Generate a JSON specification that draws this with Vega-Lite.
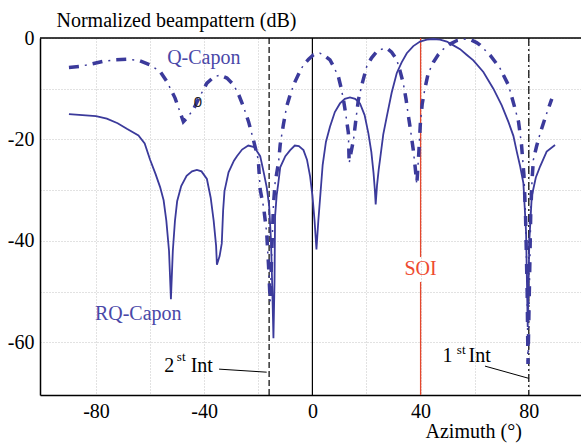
{
  "$schema": "https://vega.github.io/schema/vega-lite/v6.json",
  "width": 541,
  "height": 357,
  "autosize": "none",
  "padding": {"left": 40, "top": 38, "right": 0, "bottom": 50},
  "background": "white",
  "config": {
    "view": {"stroke": null},
    "font": "'Liberation Serif', 'Times New Roman', Times, serif",
    "axis": {
      "labelFont": "'Liberation Serif', 'Times New Roman', Times, serif", "labelFontSize": 20, "labelColor": "black",
      "titleFont": "'Liberation Serif', 'Times New Roman', Times, serif", "titleFontSize": 20, "titleFontWeight": "normal", "titleColor": "black",
      "gridColor": "#c4c4c4", "gridDash": [1, 2], "gridWidth": 1,
      "domainColor": "black", "domainWidth": 1.5, "ticks": false
    }
  },
  "datasets": {
    "rq": [
      {"x": -90, "y": -15}, {"x": -85, "y": -15.2}, {"x": -80, "y": -15.4}, {"x": -76, "y": -15.9},
      {"x": -72, "y": -16.8}, {"x": -68.6, "y": -17.9}, {"x": -64.3, "y": -19.2}, {"x": -62, "y": -20.8},
      {"x": -60, "y": -24.0}, {"x": -58, "y": -26.8}, {"x": -56.3, "y": -29.4}, {"x": -55, "y": -32},
      {"x": -54, "y": -36}, {"x": -53, "y": -42}, {"x": -52.3, "y": -51.5}, {"x": -51.6, "y": -42},
      {"x": -50.8, "y": -36}, {"x": -50, "y": -32.2}, {"x": -48.5, "y": -29.2}, {"x": -46.5, "y": -27.2},
      {"x": -44.5, "y": -26.3}, {"x": -42.7, "y": -26.0}, {"x": -41, "y": -26.3}, {"x": -39, "y": -27.8},
      {"x": -37.6, "y": -31.5}, {"x": -36.5, "y": -36}, {"x": -35.6, "y": -41}, {"x": -35.3, "y": -44.7},
      {"x": -34.3, "y": -43}, {"x": -33.5, "y": -40.5}, {"x": -33, "y": -34}, {"x": -32.5, "y": -30.2},
      {"x": -31, "y": -26.5}, {"x": -29, "y": -24.2}, {"x": -27.9, "y": -23.3}, {"x": -26, "y": -22},
      {"x": -23.7, "y": -21.2}, {"x": -21.5, "y": -21.5}, {"x": -19.3, "y": -23.3}, {"x": -18, "y": -26.5},
      {"x": -16.9, "y": -29.4}, {"x": -16, "y": -33}, {"x": -15.3, "y": -40}, {"x": -14.8, "y": -50},
      {"x": -14.4, "y": -59.2}, {"x": -14.0, "y": -48}, {"x": -13.8, "y": -35.2}, {"x": -13.2, "y": -31},
      {"x": -12.6, "y": -28.6}, {"x": -11.9, "y": -25.5}, {"x": -10, "y": -23.3}, {"x": -8.2, "y": -22.1},
      {"x": -6.5, "y": -21.2}, {"x": -5, "y": -21.3}, {"x": -3.3, "y": -22.1}, {"x": -2, "y": -24},
      {"x": -0.85, "y": -27.3}, {"x": 0, "y": -31}, {"x": 0.8, "y": -36}, {"x": 1.5, "y": -41.7},
      {"x": 2.2, "y": -36}, {"x": 2.8, "y": -31.9}, {"x": 3.8, "y": -25}, {"x": 5, "y": -20.5},
      {"x": 6.5, "y": -17.5}, {"x": 8.3, "y": -14.6}, {"x": 10.2, "y": -12.9}, {"x": 12, "y": -12},
      {"x": 13.9, "y": -11.7}, {"x": 15.8, "y": -12}, {"x": 17.6, "y": -12.9}, {"x": 19.3, "y": -15.2},
      {"x": 20.7, "y": -18.8}, {"x": 21.8, "y": -22.5}, {"x": 22.6, "y": -26.6}, {"x": 23.1, "y": -30},
      {"x": 23.4, "y": -32.8}, {"x": 23.9, "y": -29}, {"x": 24.5, "y": -26}, {"x": 25, "y": -24},
      {"x": 26.2, "y": -19}, {"x": 27.5, "y": -15.5}, {"x": 29.3, "y": -10.8}, {"x": 31.2, "y": -6.9},
      {"x": 33, "y": -4.8}, {"x": 34.9, "y": -3.0}, {"x": 37.3, "y": -1.6}, {"x": 39.8, "y": -0.7},
      {"x": 42.3, "y": -0.3}, {"x": 44.7, "y": -0.2}, {"x": 47.2, "y": -0.3}, {"x": 49.7, "y": -0.7},
      {"x": 52, "y": -1.4}, {"x": 54.6, "y": -2.2}, {"x": 57, "y": -3.3}, {"x": 59.5, "y": -4.4},
      {"x": 63.2, "y": -6.7}, {"x": 66.9, "y": -10}, {"x": 70, "y": -13.3}, {"x": 72.5, "y": -16.6},
      {"x": 74.3, "y": -19.3}, {"x": 75.6, "y": -22.5}, {"x": 76.8, "y": -25.3}, {"x": 78, "y": -28.6},
      {"x": 79, "y": -38.4}, {"x": 79.6, "y": -57}, {"x": 80.2, "y": -40}, {"x": 81.1, "y": -31.2},
      {"x": 82.6, "y": -27.5}, {"x": 84.2, "y": -25.3}, {"x": 86.6, "y": -22.4}, {"x": 89.7, "y": -21.1}
    ],
    "q": [
      {"x": -90, "y": -5.8}, {"x": -85.9, "y": -5.6}, {"x": -81.5, "y": -5.1}, {"x": -77.3, "y": -4.6},
      {"x": -72.9, "y": -4.3}, {"x": -68.6, "y": -4.2}, {"x": -64.3, "y": -4.4}, {"x": -60, "y": -5.3},
      {"x": -56.3, "y": -6.6}, {"x": -53.8, "y": -8.6}, {"x": -50.8, "y": -11.8}, {"x": -49.2, "y": -14.2},
      {"x": -47.7, "y": -16.5}, {"x": -46, "y": -15.5}, {"x": -44, "y": -14.1}, {"x": -41.5, "y": -11.4},
      {"x": -39, "y": -8.9}, {"x": -36.5, "y": -7.7}, {"x": -34.1, "y": -7.3}, {"x": -31.6, "y": -7.9},
      {"x": -29.2, "y": -9.2}, {"x": -27.3, "y": -11.1}, {"x": -25.5, "y": -13.5}, {"x": -23.6, "y": -16.5},
      {"x": -21.8, "y": -20.1}, {"x": -20, "y": -24}, {"x": -19.3, "y": -29.9}, {"x": -18, "y": -33.5},
      {"x": -16.9, "y": -38.4}, {"x": -16.2, "y": -45}, {"x": -15.6, "y": -52}, {"x": -15.0, "y": -42},
      {"x": -14.4, "y": -33}, {"x": -13.8, "y": -28.6}, {"x": -12.5, "y": -24.5}, {"x": -11.9, "y": -21},
      {"x": -10.7, "y": -17}, {"x": -9.5, "y": -13.5}, {"x": -8, "y": -10.8}, {"x": -6.4, "y": -8.6},
      {"x": -4.8, "y": -6.8}, {"x": -3.3, "y": -5.3}, {"x": -1.4, "y": -4.2}, {"x": 0.4, "y": -3.3},
      {"x": 2.8, "y": -3.0}, {"x": 4.6, "y": -3.5}, {"x": 6.5, "y": -4.3}, {"x": 8, "y": -5.8},
      {"x": 9.6, "y": -7.6}, {"x": 10.6, "y": -9.8}, {"x": 11.5, "y": -12.2}, {"x": 12.4, "y": -15.3},
      {"x": 13.3, "y": -18.7}, {"x": 13.6, "y": -24.7}, {"x": 14.3, "y": -22.5}, {"x": 15.2, "y": -20.1},
      {"x": 16.1, "y": -16}, {"x": 17, "y": -12.2}, {"x": 18.5, "y": -8.8}, {"x": 20.1, "y": -5.6},
      {"x": 21.9, "y": -3.9}, {"x": 23.8, "y": -2.7}, {"x": 25.6, "y": -2.2}, {"x": 27.5, "y": -2.0},
      {"x": 29.3, "y": -2.8}, {"x": 31.2, "y": -4.3}, {"x": 32.4, "y": -6.5}, {"x": 33.6, "y": -8.9},
      {"x": 34.6, "y": -12}, {"x": 35.5, "y": -15.4}, {"x": 36.4, "y": -18.6}, {"x": 37.3, "y": -22.1},
      {"x": 38.0, "y": -25.5}, {"x": 38.6, "y": -28.9}, {"x": 39.3, "y": -23}, {"x": 39.9, "y": -17},
      {"x": 40.6, "y": -13}, {"x": 41.6, "y": -10}, {"x": 42.8, "y": -7}, {"x": 44.7, "y": -4.8},
      {"x": 46.5, "y": -3.3}, {"x": 48.4, "y": -2.2}, {"x": 50.9, "y": -1.2}, {"x": 53.4, "y": -0.5},
      {"x": 55.8, "y": -0.2}, {"x": 58.3, "y": -0.3}, {"x": 60.7, "y": -0.9}, {"x": 62, "y": -1.4},
      {"x": 65.7, "y": -3.4}, {"x": 69.4, "y": -6}, {"x": 72.5, "y": -9.3}, {"x": 74.9, "y": -13.9},
      {"x": 76.2, "y": -16.5}, {"x": 77.3, "y": -21}, {"x": 78.2, "y": -27}, {"x": 78.8, "y": -35},
      {"x": 79.4, "y": -50}, {"x": 79.7, "y": -64.3}, {"x": 80.2, "y": -50}, {"x": 80.7, "y": -35},
      {"x": 81.2, "y": -28}, {"x": 81.7, "y": -24}, {"x": 82.9, "y": -21.3}, {"x": 84.2, "y": -18.8},
      {"x": 85.4, "y": -16.8}, {"x": 86.6, "y": -14.9}, {"x": 88.5, "y": -12.0}
    ]
  },
  "layer": [
    {
      "data": {"values": [{"y": 0}]},
      "mark": {"type": "rule", "color": "black", "strokeWidth": 1.5},
      "encoding": {
        "y": {"field": "y", "type": "quantitative",
          "scale": {"domain": [-70.4, 0], "nice": false, "zero": false},
          "axis": {
            "values": [0, -10, -20, -30, -40, -50, -60],
            "labelExpr": "datum.value % 20 === 0 ? '' + datum.value : ''",
            "labelPadding": 6,
            "title": "Normalized beampattern (dB)",
            "titleAngle": 0, "titleAlign": "left", "titleBaseline": "alphabetic",
            "titleX": 16, "titleY": -12
          }
        }
      }
    },
    {
      "data": {"values": [{"x": 0}]},
      "mark": {"type": "rule", "color": "black", "strokeWidth": 1.2},
      "encoding": {
        "x": {"field": "x", "type": "quantitative",
          "scale": {"domain": [-100.7, 99.3], "nice": false, "zero": false},
          "axis": {
            "values": [-80, -60, -40, -20, 0, 20, 40, 60, 80],
            "labelExpr": "datum.value % 40 === 0 ? '' + datum.value : ''",
            "labelPadding": 6,
            "title": "Azimuth (°)",
            "titleAlign": "left", "titleBaseline": "alphabetic",
            "titleX": 385, "titleY": 42
          }
        }
      }
    },
    {
      "data": {"values": [{"x": -16}]},
      "mark": {"type": "rule", "color": "black", "strokeWidth": 1.2, "strokeDash": [6, 3]},
      "encoding": {"x": {"field": "x", "type": "quantitative"}}
    },
    {
      "data": {"values": [{"x": 80}]},
      "mark": {"type": "rule", "color": "black", "strokeWidth": 1.2, "strokeDash": [8, 3, 2, 3]},
      "encoding": {"x": {"field": "x", "type": "quantitative"}}
    },
    {
      "data": {"values": [{"x": 40, "y": 0, "y2": -43.2}, {"x": 40, "y": -48.1, "y2": -70.4}]},
      "mark": {"type": "rule", "color": "#e5472d", "strokeWidth": 1.3},
      "encoding": {
        "x": {"field": "x", "type": "quantitative"},
        "y": {"field": "y", "type": "quantitative"},
        "y2": {"field": "y2"}
      }
    },
    {
      "data": {"values": [{"x": -34.5, "y": -65.3, "x2": -16.9, "y2": -65.9}, {"x": 63.8, "y": -64.7, "x2": 79.9, "y2": -67.1}]},
      "mark": {"type": "rule", "color": "black", "strokeWidth": 1},
      "encoding": {
        "x": {"field": "x", "type": "quantitative"},
        "y": {"field": "y", "type": "quantitative"},
        "x2": {"field": "x2"},
        "y2": {"field": "y2"}
      }
    },
    {
      "data": {"name": "rq"},
      "mark": {"type": "line", "color": "#3b3a9b", "strokeWidth": 1.8},
      "encoding": {
        "x": {"field": "x", "type": "quantitative"},
        "y": {"field": "y", "type": "quantitative"}
      }
    },
    {
      "data": {"name": "q"},
      "mark": {"type": "line", "color": "#3b3a9b", "strokeWidth": 3.5, "strokeDash": [10, 14]},
      "encoding": {
        "x": {"field": "x", "type": "quantitative"},
        "y": {"field": "y", "type": "quantitative"}
      }
    },
    {
      "data": {"name": "q"},
      "mark": {"type": "line", "color": "#3b3a9b", "strokeWidth": 1.5, "strokeDash": [2, 22], "strokeDashOffset": 8},
      "encoding": {
        "x": {"field": "x", "type": "quantitative"},
        "y": {"field": "y", "type": "quantitative"}
      }
    },
    {
      "data": {"values": [{"t": "Q-Capon", "x": -53.7, "y": -5.1}, {"t": "RQ-Capon", "x": -80.4, "y": -55.6}]},
      "mark": {"type": "text", "font": "'Liberation Serif', 'Times New Roman', Times, serif", "fontSize": 20, "color": "#4a48a8", "align": "left", "baseline": "alphabetic"},
      "encoding": {
        "x": {"field": "x", "type": "quantitative"},
        "y": {"field": "y", "type": "quantitative"},
        "text": {"field": "t"}
      }
    },
    {
      "data": {"values": [{"t": "SOI", "x": 40, "y": -46.7}]},
      "mark": {"type": "text", "font": "'Liberation Serif', 'Times New Roman', Times, serif", "fontSize": 20, "color": "#ee4b30", "align": "center", "baseline": "alphabetic"},
      "encoding": {
        "x": {"field": "x", "type": "quantitative"},
        "y": {"field": "y", "type": "quantitative"},
        "text": {"field": "t"}
      }
    },
    {
      "data": {"values": [{"t": "2", "x": -54.8, "y": -65.9}, {"t": "Int", "x": -45.0, "y": -65.9}, {"t": "1", "x": 48.1, "y": -63.8}, {"t": "Int", "x": 57.7, "y": -63.8}]},
      "mark": {"type": "text", "font": "'Liberation Serif', 'Times New Roman', Times, serif", "fontSize": 20, "color": "black", "align": "left", "baseline": "alphabetic"},
      "encoding": {
        "x": {"field": "x", "type": "quantitative"},
        "y": {"field": "y", "type": "quantitative"},
        "text": {"field": "t"}
      }
    },
    {
      "data": {"values": [{"t": "st", "x": -50.1, "y": -63.6}, {"t": "st", "x": 53.4, "y": -62.3}]},
      "mark": {"type": "text", "font": "'Liberation Serif', 'Times New Roman', Times, serif", "fontSize": 13, "color": "black", "align": "left", "baseline": "alphabetic"},
      "encoding": {
        "x": {"field": "x", "type": "quantitative"},
        "y": {"field": "y", "type": "quantitative"},
        "text": {"field": "t"}
      }
    },
    {
      "data": {"values": [{"t": "0", "x": -42.3, "y": -13.7}]},
      "mark": {"type": "text", "font": "'Liberation Sans', Arial, sans-serif", "fontSize": 15, "color": "#222222", "align": "center", "baseline": "alphabetic"},
      "encoding": {
        "x": {"field": "x", "type": "quantitative"},
        "y": {"field": "y", "type": "quantitative"},
        "text": {"field": "t"}
      }
    }
  ]
}
